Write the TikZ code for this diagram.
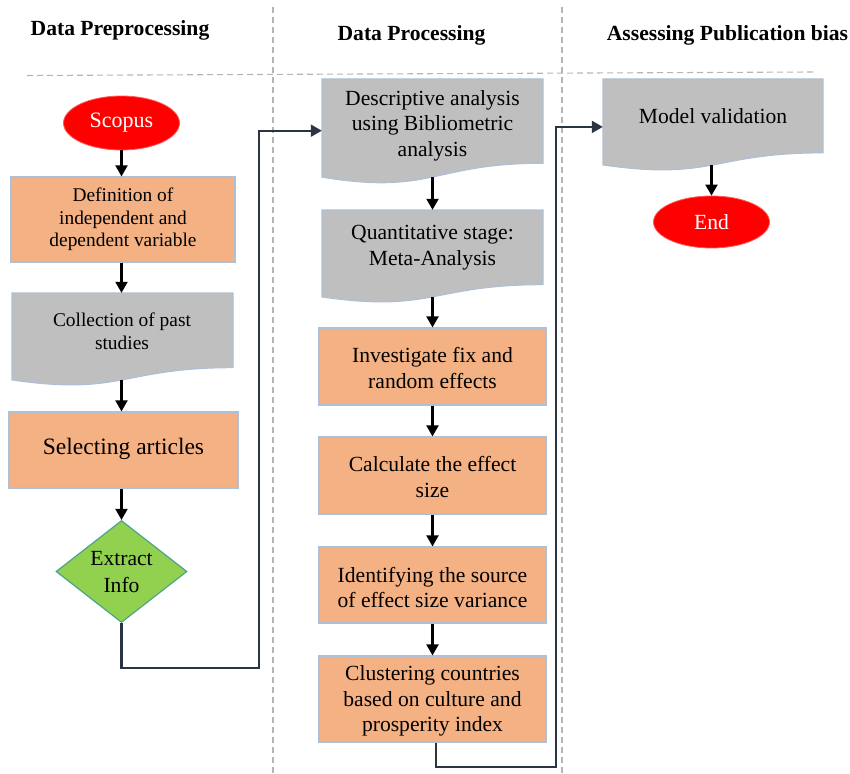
\documentclass[tikz,border=0pt]{standalone}
\usepackage{fontspec}
\setmainfont{Liberation Serif}
\usetikzlibrary{shapes.geometric,arrows.meta}

\definecolor{procfill}{HTML}{F4B183}
\definecolor{docfill}{HTML}{BFBFBF}
\definecolor{boxedge}{HTML}{AFBFD6}
\definecolor{decfill}{HTML}{92D050}
\definecolor{decedge}{HTML}{4BA58A}
\definecolor{termfill}{HTML}{FF0000}
\definecolor{termedge}{HTML}{FF5A5A}
\definecolor{linkcol}{HTML}{2B3442}
\definecolor{sepcol}{HTML}{B5B5B5}

\tikzset{
  sep/.style={draw=sepcol, line width=1.1pt, dash pattern=on 6pt off 4pt},
  head/.style={font=\fontsize{21.6}{25}\bfseries\selectfont, anchor=base},
  txt/.style={align=center, inner sep=0pt, font=\fontsize{21.6}{25.5}\selectfont},
  smalltxt/.style={align=center, inner sep=0pt, font=\fontsize{19.4}{22.7}\selectfont},
  procbox/.style={rectangle, fill=procfill, draw=boxedge, line width=1.2pt, inner sep=0pt},
  docshape/.style={fill=docfill, draw=boxedge, line width=1.2pt},
  docframe/.style={rectangle, draw=none, inner sep=0pt},
  termnode/.style={ellipse, fill=termfill, draw=termedge, line width=0.8pt, inner sep=0pt,
    text=white, font=\fontsize{22}{25}\selectfont},
  decnode/.style={diamond, fill=decfill, draw=decedge, line width=1.2pt, inner sep=0pt},
  arr/.style={-{Triangle[length=11pt,width=12pt]}, line width=2.1pt, black},
  link/.style={-{Triangle[length=11pt,width=12pt]}, line width=2.1pt, linkcol},
}

\begin{document}
\begin{tikzpicture}[x=1pt, y=-1pt]
\useasboundingbox (0,0) rectangle (850,773);

% column separators
\draw[sep] (273,7) -- (273,773);
\draw[sep] (562,7) -- (562,773);
\draw[sep] (27,75.5) -- (813,72);

% column titles
\node[head] (h1) at (120,36) {Data Preprocessing};
\node[head] (h2) at (411.5,40.5) {Data Processing};
\node[head] (h3) at (727.5,40.5) {Assessing Publication bias};

% ---------- first column ----------
\node[termnode, minimum width=116pt, minimum height=54pt] (scopus) at (121.5,123) {Scopus};

\node[procbox, minimum width=224pt, minimum height=85pt] (defn) at (123,219.5) {};
\node[smalltxt] (defntxt) at (123,219.5) {Definition of\\independent and\\dependent variable};

\path[docshape] (12,293) -- (233,293) -- (233,367.6)
  .. controls (122.5,367.6) and (122.5,396.0) .. (12,379.9) -- cycle;
\node[docframe, minimum width=221pt, minimum height=86.8pt] (collect) at (122,336.4) {};
\node[smalltxt] (collecttxt) at (122,331.5) {Collection of past\\studies};

\node[procbox, minimum width=229pt, minimum height=76pt] (select) at (123.5,450) {};
\node[txt, font=\fontsize{23.5}{27}\selectfont] (selecttxt) at (123.5,449) {Selecting articles};

\node[decnode, minimum width=131pt, minimum height=102pt] (extract) at (121.5,571.5) {};
\node[txt, font=\fontsize{21.6}{26.5}\selectfont] (extracttxt) at (121.5,572) {Extract\\Info};

\draw[arr] (scopus.south) -- (scopus.south |- defn.north);
\draw[arr] (defn.south -| scopus.south) -- (scopus.south |- collect.north);
\draw[arr] (collect.south -| scopus.south) -- (scopus.south |- select.north);
\draw[arr] (select.south -| extract.north) -- (extract.north);

% ---------- second column ----------
\path[docshape] (322,79) -- (543,79) -- (543,163.2)
  .. controls (432.5,163.2) and (432.5,195.3) .. (322,177.1) -- cycle;
\node[docframe, minimum width=221pt, minimum height=98pt] (desc) at (432.5,128) {};
\node[txt] (desctxt) at (432.5,125.5) {Descriptive analysis\\using Bibliometric\\analysis};

\path[docshape] (322,210) -- (543,210) -- (543,284.6)
  .. controls (432.5,284.6) and (432.5,313.0) .. (322,296.9) -- cycle;
\node[docframe, minimum width=221pt, minimum height=86.8pt] (quant) at (432.5,253.4) {};
\node[txt] (quanttxt) at (432.5,247.5) {Quantitative stage:\\Meta-Analysis};

\node[procbox, minimum width=227pt, minimum height=77pt] (invest) at (432.5,366.5) {};
\node[txt] (investtxt) at (432.5,368) {Investigate fix and\\random effects};

\node[procbox, minimum width=227pt, minimum height=77pt] (calc) at (432.5,475.5) {};
\node[txt] (calctxt) at (432.5,477) {Calculate the effect\\size};

\node[procbox, minimum width=227pt, minimum height=76pt] (ident) at (432.5,585) {};
\node[txt] (identtxt) at (432.5,587.5) {Identifying the source\\of effect size variance};

\node[procbox, minimum width=227pt, minimum height=86pt] (clust) at (432.5,699) {};
\node[txt] (clusttxt) at (432.5,701) {Clustering countries\\based on culture and\\prosperity index};

\draw[arr] (desc.south) -- (quant.north);
\draw[arr] (quant.south) -- (invest.north);
\draw[arr] (invest.south) -- (calc.north);
\draw[arr] (calc.south) -- (ident.north);
\draw[arr] (ident.south) -- (clust.north);

% ---------- third column ----------
\path[docshape] (603,79) -- (823,79) -- (823,152.8)
  .. controls (713,152.8) and (713,180.9) .. (603,164.9) -- cycle;
\node[docframe, minimum width=220pt, minimum height=85.8pt] (model) at (713,121.9) {};
\node[txt] (modeltxt) at (713,116.5) {Model validation};

\node[termnode, minimum width=116pt, minimum height=52pt, font=\fontsize{21.6}{25}\selectfont] (endnode) at (711.5,222) {End};

\draw[arr] (model.south -| endnode.north) -- (endnode.north);

% ---------- links between columns ----------
\coordinate (j1) at (259,668);
\coordinate (j2) at (556,767);
\draw[link] (extract.south) |- (j1) |- ([yshift=-2.7pt]desc.west);
\draw[link] ([xshift=3.5pt]clust.south) |- (j2) |- ([yshift=-5pt]model.west);

\end{tikzpicture}
\end{document}
